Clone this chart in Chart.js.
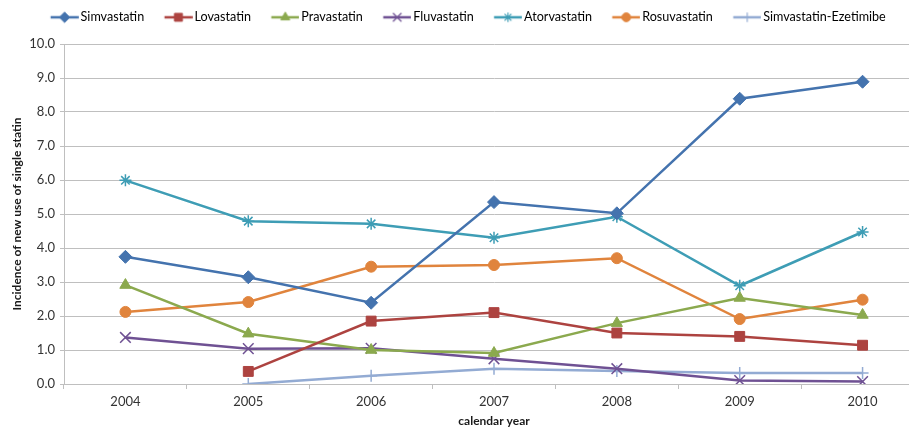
<!DOCTYPE html>
<html>
<head>
<meta charset="utf-8">
<script src="https://cdn.jsdelivr.net/npm/chart.js@4/dist/chart.umd.min.js"></script>
<style>
  html, body { margin: 0; padding: 0; background: #fff; overflow: hidden; width: 909px; height: 428px; }
  #wrap { position: absolute; left: 0; top: 0; }
</style>
</head>
<body>
<div id="wrap"><canvas id="statins" width="1055" height="428"></canvas></div>
<script>
// ---------- data ----------
const years = ['2004', '2005', '2006', '2007', '2008', '2009', '2010'];
const seriesNames = ['Simvastatin', 'Lovastatin', 'Pravastatin', 'Fluvastatin', 'Atorvastatin', 'Rosuvastatin', 'Simvastatin-Ezetimibe'];
const simvastatin = [3.74, 3.14, 2.39, 5.35, 5.02, 8.39, 8.89];
const lovastatin = [null, 0.37, 1.85, 2.10, 1.50, 1.40, 1.14];
const pravastatin = [2.91, 1.48, 1.00, 0.91, 1.79, 2.53, 2.03];
const fluvastatin = [1.37, 1.04, 1.05, 0.74, 0.45, 0.10, 0.07];
const atorvastatin = [5.99, 4.79, 4.71, 4.30, 4.92, 2.89, 4.47];
const rosuvastatin = [2.12, 2.41, 3.45, 3.50, 3.70, 1.91, 2.48];
const simvaEzetimibe = [null, 0.00, 0.24, 0.45, 0.38, 0.32, 0.32];

const seriesValues = [simvastatin, lovastatin, pravastatin, fluvastatin, atorvastatin, rosuvastatin, simvaEzetimibe];
const colors = ['#4473AE', '#AD4340', '#8BA94E', '#6F5193', '#3E9DB5', '#E0843D', '#93ABD3'];
const markers = ['rectRot', 'rect', 'triangle', 'crossRot', 'star', 'circle', 'cross'];
const radii = [6.5, 7, 6.5, 7.5, 6, 5.5, 6];

const FONT = 'Lato, "Liberation Sans", sans-serif';
const PLOT_LEFT = 64, PLOT_TOP = 44, PLOT_BOTTOM = 384;
const LEGEND_SIZE = 12.6;
const ICON_BOX = 36;              // legend box width, the icon sits at its right end
const ICON_W = 45;

let isThin = (m) => m.startsWith('cross') || m === 'star';

// line + marker icon for the legend (line drawn at the right end of a wide image)
let legendIcon = (i) => {
  let c = document.createElement('canvas');
  c.width = ICON_W; c.height = 14;
  let g = c.getContext('2d');
  g.strokeStyle = colors[i];
  g.fillStyle = colors[i];
  g.lineWidth = 2.5;
  g.beginPath();
  g.moveTo(16.8, 7); g.lineTo(44.8, 7);
  g.stroke();
  g.lineWidth = isThin(markers[i]) ? 1.2 : 1;
  Chart.helpers.drawPoint(g, { pointStyle: markers[i], radius: radii[i] * 0.8, rotation: 0, borderWidth: g.lineWidth }, 30.8, 7);
  return c;
};

// keep the gap under the legend like the original
let legendGap = {
  id: 'legendGap',
  beforeInit(ch) {
    let fit = ch.legend.fit;
    ch.legend.fit = function () {
      fit.call(this);
      this.height = PLOT_TOP - 3;
    };
  }
};

let ctx = document.getElementById('statins').getContext('2d');

let chart = new Chart(ctx, {
  type: 'line',
  data: {
    labels: years,
    datasets: seriesNames.map((name, i) => ({
      label: name,
      data: seriesValues[i],
      borderColor: colors[i],
      backgroundColor: colors[i],
      borderWidth: 2.5,
      pointStyle: markers[i],
      pointRadius: radii[i],
      pointBorderWidth: isThin(markers[i]) ? 1.5 : 1,
      pointBorderColor: colors[i],
      pointBackgroundColor: colors[i],
      tension: 0,
      fill: false
    }))
  },
  plugins: [legendGap],
  options: {
    responsive: false,
    animation: false,
    devicePixelRatio: 1,
    layout: { padding: { left: 0, right: 131, top: 3, bottom: 0 } },
    plugins: {
      tooltip: { enabled: false },
      legend: {
        position: 'top',
        align: 'center',
        labels: {
          usePointStyle: true,
          pointStyleWidth: ICON_BOX,
          padding: 8,
          color: '#333333',
          font: { family: FONT, size: LEGEND_SIZE },
          generateLabels: (ch) => ch.data.datasets.map((ds, i) => ({
            text: ds.label,
            pointStyle: legendIcon(i),
            fillStyle: colors[i],
            strokeStyle: colors[i],
            lineWidth: 0,
            hidden: false,
            datasetIndex: i
          }))
        }
      }
    },
    scales: {
      x: {
        type: 'category',
        offset: true,
        grid: { display: true, offset: true, drawOnChartArea: false, drawTicks: true, tickLength: 5, color: '#BFBFBF' },
        border: { display: true, color: '#BFBFBF', width: 1 },
        ticks: { color: '#333333', font: { family: FONT, size: 13 }, padding: 5, maxRotation: 0 },
        title: { display: true, text: 'calendar year', color: '#1a1a1a', font: { family: FONT, size: 12, weight: 'bold' }, padding: { top: 0, bottom: 0 } },
        afterFit: (scale) => { scale.height = 428 - PLOT_BOTTOM; }
      },
      y: {
        min: 0,
        max: 10,
        ticks: { stepSize: 1, color: '#333333', font: { family: FONT, size: 13 }, padding: 5, callback: (v) => v.toFixed(1) },
        grid: { color: '#BFBFBF', lineWidth: 1, tickLength: 4 },
        border: { display: true, color: '#BFBFBF' },
        title: { display: true, text: 'Incidence of new use of single statin', color: '#1a1a1a', font: { family: FONT, size: 12, weight: 'bold' }, padding: { top: 10, bottom: 0 } },
        afterFit: (scale) => { scale.width = PLOT_LEFT; }
      }
    }
  }
});
</script>
</body>
</html>
